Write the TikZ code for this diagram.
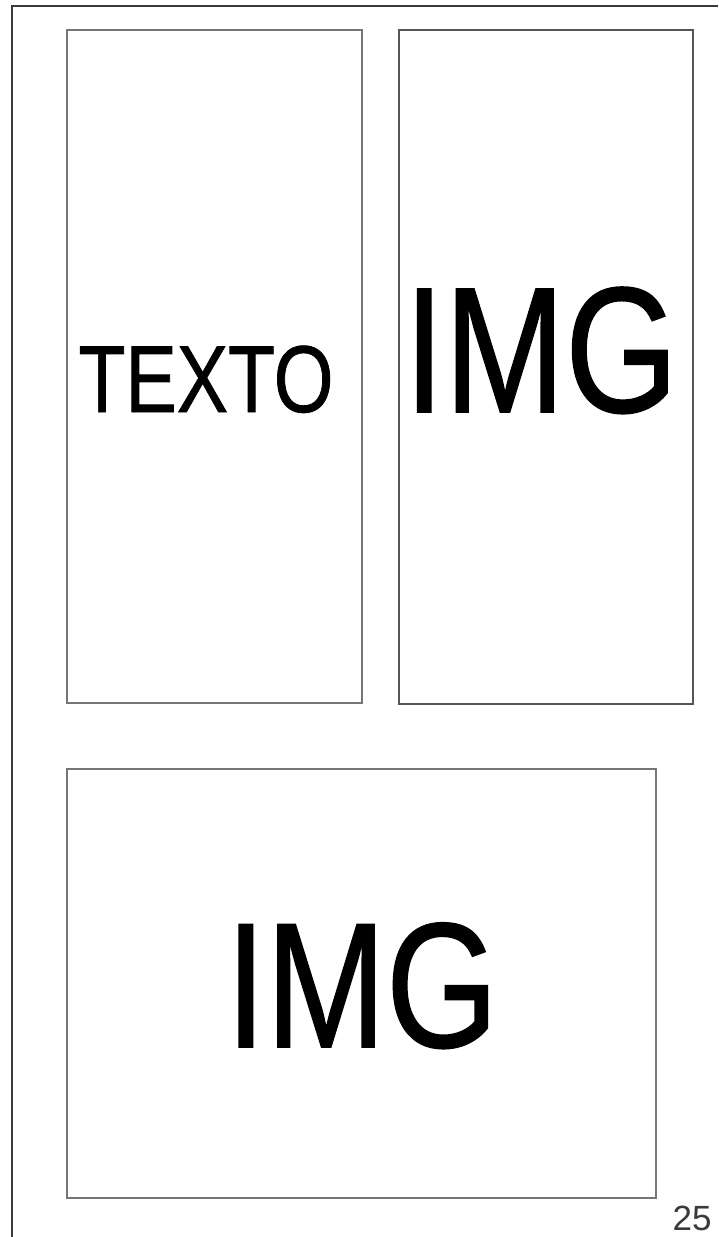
\documentclass[tikz,border=0pt]{standalone}
\usepackage{fontspec}
\setmainfont{Liberation Sans}
\newfontfamily\heavysans{Liberation Sans}[FakeBold=0.9]
\usepackage{xcolor}
\usepackage{graphicx}
\usepackage{tikz}
\definecolor{framegray}{HTML}{3A3A3A}
\definecolor{boxgray}{HTML}{767676}
\definecolor{boxdark}{HTML}{555555}

\begin{document}
\begin{tikzpicture}[x=1pt,y=-1pt,
  panel/.style={line width=1.3pt},
  label/.style={anchor=base,inner sep=0pt,text=black}]
\useasboundingbox (0,0) rectangle (718,1237);
\draw[framegray,line width=1.6pt] (12,1237)--(12,6)--(718,6);
\draw[panel,boxgray] (67,30) rectangle (362,703);
\draw[panel,boxdark] (399,30) rectangle (693,704);
\draw[panel,boxgray] (67,769) rectangle (656,1198);
\node[label,font=\heavysans\fontsize{95}{95}\selectfont] (texto) at (206,412) {\scalebox{0.81}[1]{TEXTO}};
\node[label,font=\heavysans\fontsize{179}{179}\selectfont] (imgtop) at (541,412) {\scalebox{0.81}[1]{IMG}};
\node[label,font=\heavysans\fontsize{178}{178}\selectfont] (imgbottom) at (362,1047) {\scalebox{0.81}[1]{IMG}};
\node[label,font=\fontsize{35}{35}\selectfont,text=framegray] (page) at (692,1230) {25};
\end{tikzpicture}
\end{document}
